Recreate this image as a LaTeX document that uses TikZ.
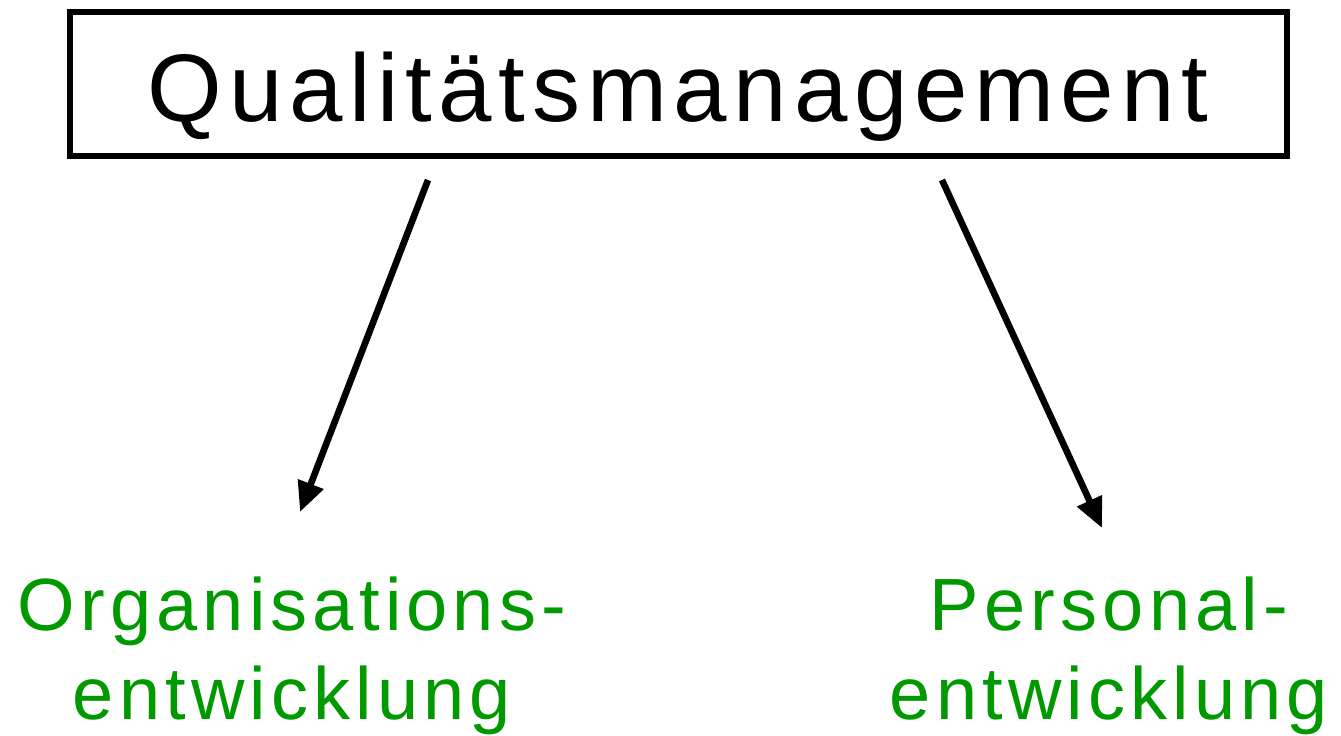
\documentclass[tikz,border=0pt]{standalone}
\usepackage{fontspec}
\setmainfont{Liberation Sans}
\newfontfamily\spacedfont[LetterSpace=7]{Liberation Sans}
\usetikzlibrary{arrows.meta}
\definecolor{qgreen}{HTML}{009900}
\begin{document}
\begin{tikzpicture}[x=0.5pt,y=-0.5pt,
  titlebox/.style={draw=black,line width=3pt,minimum width=608.5pt,minimum height=72pt,inner sep=0pt},
  titletext/.style={font=\spacedfont\fontsize{48}{56}\selectfont},
  greentext/.style={text=qgreen,font=\spacedfont\fontsize{37}{44}\selectfont,align=center,inner sep=0pt},
  arr/.style={line width=3.3pt,-{Triangle[length=15pt,width=13pt]}}]
\useasboundingbox (0,0) rectangle (1341,735);
\node[titlebox] (box) at (678.5,84) {};
\node[titletext,anchor=base] (title) at (678,121) {Qualitätsmanagement};
\coordinate (ls) at (428,180);
\coordinate (le) at (300,512);
\coordinate (rs) at (942,180);
\coordinate (re) at (1102,528);
\draw[arr] (ls) -- (le);
\draw[arr] (rs) -- (re);
\node[greentext,anchor=base] (org1) at (292,630) {Organisations-};
\node[greentext,anchor=base] (org2) at (292,719) {entwicklung};
\node[greentext,anchor=base] (per1) at (1109,630) {Personal-};
\node[greentext,anchor=base] (per2) at (1109,719) {entwicklung};
\end{tikzpicture}
\end{document}
